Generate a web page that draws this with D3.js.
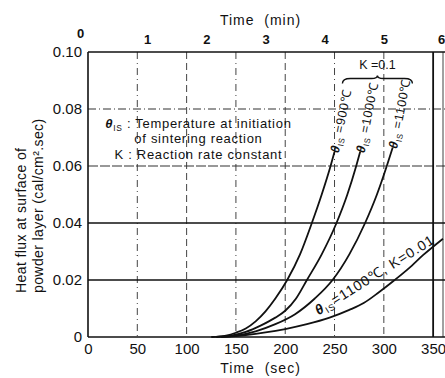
<!DOCTYPE html>
<html>
<head>
<meta charset="utf-8">
<script src="https://cdn.jsdelivr.net/npm/d3@7"></script>
<style>
  body { margin: 0; background: #fff; }
  svg { display: block; font-family: "Liberation Sans", Arial, Helvetica, sans-serif; }
</style>
</head>
<body>
<div id="chart"></div>
<script>
// time ticks (sec on the bottom, min on the top) and heat flux ticks
const secTicks = [0, 50, 100, 150, 200, 250, 300, 350];
const minTicks = [0, 1, 2, 3, 4, 5, 6];
const fluxTicks = [0, 0.02, 0.04, 0.06, 0.08, 0.10];

// [time (sec), heat flux (cal/cm2.sec)]
const curve900 = [[125, 0], [140, 0.0005], [150, 0.0015], [160, 0.003], [170, 0.0055], [180, 0.009],
  [190, 0.0135], [202, 0.02], [215, 0.029], [227, 0.04], [237, 0.05], [246, 0.06], [250, 0.065]];
const curve1000 = [[130, 0], [145, 0.0005], [160, 0.0018], [175, 0.004], [190, 0.0068], [200, 0.0092],
  [211, 0.0135], [222, 0.02], [237, 0.029], [252, 0.04], [263, 0.05], [272, 0.06], [276, 0.065]];
const curve1100 = [[135, 0], [150, 0.0005], [170, 0.002], [190, 0.0045], [210, 0.008], [230, 0.0135],
  [248, 0.02], [265, 0.029], [281, 0.04], [293, 0.05], [303, 0.06], [309, 0.0665]];
const curve1100slow = [[135, 0], [160, 0.0007], [180, 0.0016], [200, 0.0028], [222, 0.0045], [245, 0.0068],
  [265, 0.0095], [280, 0.012], [295, 0.0157], [311, 0.02], [325, 0.024], [340, 0.0288], [360, 0.0345]];

const fastCurves = [
  { temp: "900℃", points: curve900 },
  { temp: "1000℃", points: curve1000 },
  { temp: "1100℃", points: curve1100 }
];
const legendLines = [" : Temperature at initiation", "of sintering reaction", "K : Reaction rate constant"];

const width = 445, height = 378;
const margin = { top: 52, right: 2, bottom: 41, left: 88 };

const svg = d3.select("#chart").append("svg")
  .attr("width", width)
  .attr("height", height);

const x = d3.scaleLinear().domain([0, 360]).range([margin.left, width - margin.right]);
const y = d3.scaleLinear().domain([0, 0.10]).range([height - margin.bottom, margin.top]);

// grid
svg.append("g").selectAll("line")
  .data(secTicks.filter(d => d > 0 && d < 350))
  .join("line")
  .attr("x1", d => x(d)).attr("x2", d => x(d))
  .attr("y1", y(0.10)).attr("y2", y(0))
  .attr("stroke", "#444")
  .attr("stroke-width", 1)
  .attr("stroke-dasharray", (d, i) => i % 2 ? "7,4" : "7,4,1,4");

svg.append("g").selectAll("line")
  .data(fluxTicks.filter(d => d > 0 && d < 0.1))
  .join("line")
  .attr("x1", x(0)).attr("x2", width)
  .attr("y1", d => y(d)).attr("y2", d => y(d))
  .attr("stroke", d => d < 0.05 ? "#111" : "#333")
  .attr("stroke-width", d => d < 0.05 ? 1.5 : 1.2)
  .attr("stroke-dasharray", d => d < 0.05 ? null : (d > 0.07 ? "8,3,1,3" : "10,2"));

// frame
const frame = svg.append("g").attr("stroke", "#111").attr("fill", "none");
frame.append("line").attr("x1", x(0)).attr("x2", x(0)).attr("y1", y(0.10)).attr("y2", y(0)).attr("stroke-width", 1.6);
frame.append("line").attr("x1", x(0)).attr("x2", width).attr("y1", y(0.10)).attr("y2", y(0.10)).attr("stroke-width", 1.6);
frame.append("line").attr("x1", x(0)).attr("x2", width).attr("y1", y(0)).attr("y2", y(0)).attr("stroke-width", 1.6);
frame.append("line").attr("x1", x(350)).attr("x2", x(350)).attr("y1", y(0.10)).attr("y2", y(0)).attr("stroke-width", 1.8);
frame.append("line").attr("x1", x(360)).attr("x2", x(360)).attr("y1", y(0.10)).attr("y2", y(0)).attr("stroke-width", 0.8);

// axes
const xAxis = d3.axisBottom(x).tickValues(secTicks).tickSize(0).tickPadding(6);
svg.append("g")
  .attr("transform", `translate(0,${y(0)})`)
  .call(xAxis)
  .call(g => g.select(".domain").remove())
  .selectAll("text").attr("font-size", 15).attr("fill", "#111")
  .attr("font-family", "Liberation Sans, Arial, sans-serif");

const xTop = d3.axisTop(x).tickValues(minTicks.map(m => m * 60)).tickFormat(d => d / 60).tickSize(0).tickPadding(8);
svg.append("g")
  .attr("transform", `translate(0,${y(0.10)})`)
  .call(xTop)
  .call(g => g.select(".domain").remove())
  .selectAll("text").attr("font-size", 13).attr("font-weight", "bold").attr("fill", "#111")
  .attr("font-family", "Liberation Sans, Arial, sans-serif")
  .attr("dx", (d, i) => i === 0 ? -8 : (i === minTicks.length - 1 ? -2 : 0))
  .attr("dy", (d, i) => i === 0 ? -6 : 0);

const yAxis = d3.axisLeft(y).tickValues(fluxTicks).tickSize(0).tickPadding(6)
  .tickFormat(d => d === 0 ? "0" : d3.format(".2f")(d));
svg.append("g")
  .attr("transform", `translate(${x(0)},0)`)
  .call(yAxis)
  .call(g => g.select(".domain").remove())
  .selectAll("text").attr("font-size", 15).attr("fill", "#111")
  .attr("font-family", "Liberation Sans, Arial, sans-serif");

// axis titles
svg.append("text")
  .attr("x", (x(0) + x(350)) / 2).attr("y", height - 5)
  .attr("text-anchor", "middle").attr("font-size", 14).attr("letter-spacing", 1).attr("fill", "#111")
  .attr("xml:space", "preserve")
  .text("Time  (sec)");
svg.append("text")
  .attr("x", (x(0) + x(350)) / 2).attr("y", 25)
  .attr("text-anchor", "middle").attr("font-size", 14).attr("letter-spacing", 1).attr("fill", "#111")
  .attr("xml:space", "preserve")
  .text("Time  (min)");

const yTitle = ["Heat flux at surface of", "powder layer (cal/cm².sec)"];
svg.append("g").selectAll("text")
  .data(yTitle)
  .join("text")
  .attr("transform", (d, i) => `translate(${26 + i * 17},293) rotate(-90)`)
  .attr("font-size", 14).attr("letter-spacing", 0.4).attr("fill", "#111")
  .text(d => d);

// curves
const line = d3.line().x(d => x(d[0])).y(d => y(d[1])).curve(d3.curveMonotoneX);
svg.append("g").selectAll("path")
  .data([curve900, curve1000, curve1100, curve1100slow])
  .join("path")
  .attr("d", line)
  .attr("fill", "none")
  .attr("stroke", "#111")
  .attr("stroke-width", 1.8);

function thetaLabel(sel, rest, size) {
  sel.append("tspan").attr("font-style", "italic").attr("font-weight", "bold").text("θ");
  sel.append("tspan").attr("font-size", size * 0.65).attr("dy", 3).text("IS");
  sel.append("tspan").attr("dy", -3).text(rest);
}

// labels along the fast curves
fastCurves.forEach(c => {
  const last = c.points[c.points.length - 1];
  const t = svg.append("text")
    .attr("transform", `translate(${x(last[0])},${y(last[1]) + 1}) rotate(-79)`)
    .attr("dy", "0.35em")
    .attr("font-size", 12.5).attr("letter-spacing", 0.6).attr("fill", "#111");
  thetaLabel(t, " =" + c.temp, 12.5);
});

// brace over the K = 0.1 labels
const bx0 = x(258), bx1 = x(329), by = y(0.0907), bm = (bx0 + bx1) / 2;
svg.append("path")
  .attr("d", `M${bx0},${by + 5} Q${bx0},${by} ${bx0 + 8},${by} L${bm - 6},${by} Q${bm},${by} ${bm},${by - 3} Q${bm},${by} ${bm + 6},${by} L${bx1 - 8},${by} Q${bx1},${by} ${bx1},${by + 5}`)
  .attr("fill", "none").attr("stroke", "#111").attr("stroke-width", 1.4);
svg.append("text")
  .attr("x", bm).attr("y", y(0.094))
  .attr("text-anchor", "middle").attr("font-size", 12.5).attr("fill", "#111")
  .attr("xml:space", "preserve")
  .text("K =0.1");

// label along the slow curve
const slowAt = curve1100slow[5];
const ts = svg.append("text")
  .attr("transform", `translate(${x(slowAt[0]) - 11},${y(slowAt[1]) - 2}) rotate(-32)`)
  .attr("font-size", 14).attr("letter-spacing", 1).attr("fill", "#111");
thetaLabel(ts, "=1100℃, K=0.01", 14);

// legend inside the plot
const lg = svg.append("g").attr("font-size", 13).attr("letter-spacing", 0.7).attr("fill", "#111").attr("text-anchor", "middle");
legendLines.forEach((s, i) => {
  const t = lg.append("text").attr("x", x(112)).attr("y", y(0.0735) + i * 15.5);
  if (i === 0) thetaLabel(t, s, 13);
  else t.text(s);
});
</script>
</body>
</html>
